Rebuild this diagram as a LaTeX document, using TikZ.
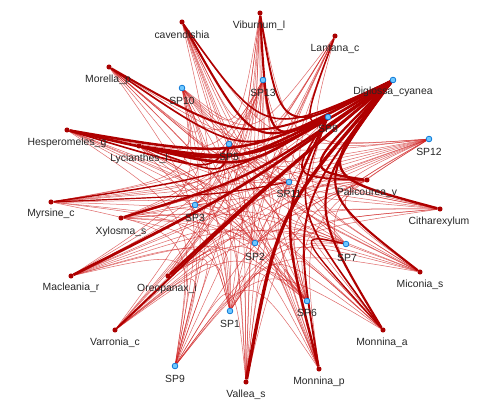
\documentclass[tikz,border=0pt]{standalone}
\usepackage{fontspec}
\setmainfont{Liberation Sans}
\usetikzlibrary{calc}
\pgfdeclarelayer{edges}
\pgfsetlayers{edges,main}
\definecolor{edgered}{RGB}{175,0,0}
\definecolor{thinred}{RGB}{205,25,25}
\definecolor{plantred}{RGB}{170,0,0}
\definecolor{pollfill}{RGB}{110,200,255}
\definecolor{pollline}{RGB}{0,110,210}
\newcommand{\mylink}[3][thinedge]{\draw[#1] (#2) .. controls ($(#2)!0.5!(#3)!0.6!(cen)$) .. (#3);}
\begin{document}
\begin{tikzpicture}[x=0.75pt,y=-0.75pt,
  plant/.style={circle,fill=plantred,draw=none,inner sep=0pt,minimum size=3.8pt},
  poll/.style={circle,fill=pollfill,draw=pollline,line width=0.5pt,inner sep=0pt,minimum size=4.3pt},
  lab/.style={font=\fontsize{7.8}{9}\selectfont,text=black!85,inner sep=0pt},
  thinedge/.style={draw=thinred,line width=0.38pt,opacity=0.65},
  thickedge/.style={draw=edgered,line width=#1},
  thickedge/.default=2pt]
\useasboundingbox (0,0) rectangle (492,418);
\coordinate (cen) at (250,197);
% plants
\node[plant] (cav) at (182,22) {};
\node[plant] (vib) at (260,13) {};
\node[plant] (lan) at (335,36) {};
\node[plant] (cit) at (440,209) {};
\node[plant] (mic) at (420,272) {};
\node[plant] (moa) at (383,330) {};
\node[plant] (mop) at (319,369) {};
\node[plant] (val) at (246,382) {};
\node[plant] (var) at (115,330) {};
\node[plant] (mac) at (71,276) {};
\node[plant] (myr) at (51,202) {};
\node[plant] (hes) at (67,130) {};
\node[plant] (mor) at (109,67) {};
\node[plant] (lyc) at (139,146) {};
\node[plant] (xyl) at (121,218) {};
\node[plant] (ore) at (168,276) {};
\node[plant] (pal) at (367,180) {};
% pollinators
\node[poll] (dig) at (393,80) {};
\node[poll] (sp12) at (429,139) {};
\node[poll] (sp9) at (175,366) {};
\node[poll] (sp10) at (182,88) {};
\node[poll] (sp13) at (263,80) {};
\node[poll] (sp8) at (328,117) {};
\node[poll] (sp5) at (229,144) {};
\node[poll] (sp3) at (195,205) {};
\node[poll] (sp11) at (289,182) {};
\node[poll] (sp2) at (255,243) {};
\node[poll] (sp7) at (346,244) {};
\node[poll] (sp1) at (230,311) {};
\node[poll] (sp6) at (307,301) {};
% labels
\node[lab] (tcav) at (182,35) {cavendishia};
\node[lab] (tvib) at (259,26) {Viburnum\_l};
\node[lab] (tlan) at (335,49) {Lantana\_c};
\node[lab] (tdig) at (393,92) {Diglossa\_cyanea};
\node[lab] (tsp12) at (429,152) {SP12};
\node[lab] (tcit) at (439,222) {Citharexylum};
\node[lab] (tmic) at (420,285) {Miconia\_s};
\node[lab] (tmoa) at (382,343) {Monnina\_a};
\node[lab] (tmop) at (319,382) {Monnina\_p};
\node[lab] (tval) at (246,395) {Vallea\_s};
\node[lab] (tsp9) at (175,379) {SP9};
\node[lab] (tvar) at (115,343) {Varronia\_c};
\node[lab] (tmac) at (71,288) {Macleania\_r};
\node[lab] (tmyr) at (51,214) {Myrsine\_c};
\node[lab] (thes) at (67,143) {Hesperomeles\_g};
\node[lab] (tmor) at (108,80) {Morella\_p};
\node[lab] (tsp10) at (182,101) {SP10};
\node[lab] (tsp13) at (263,93) {SP13};
\node[lab] (tsp8) at (328,129) {SP8};
\node[lab] (tlyc) at (139,159) {Lycianthes\_l};
\node[lab] (tsp5) at (229,157) {SP5};
\node[lab] (txyl) at (121,232) {Xylosma\_s};
\node[lab] (tsp3) at (195,218) {SP3};
\node[lab] (tsp11) at (289,194) {SP11};
\node[lab] (tpal) at (367,193) {Palicourea\_v};
\node[lab] (tsp2) at (255,257) {SP2};
\node[lab] (tsp7) at (347,258) {SP7};
\node[lab] (tore) at (167,289) {Oreopanax\_i};
\node[lab] (tsp1) at (230,324) {SP1};
\node[lab] (tsp6) at (307,313) {SP6};
\begin{pgfonlayer}{edges}
% thin links
\foreach \p [count=\i] in {sp1,sp2,sp3,sp5,sp6,sp7,sp9,sp10,sp11,sp12,sp13,sp8,dig} {
  \foreach \q [count=\j] in {cav,vib,lan,cit,mic,moa,mop,val,var,mac,myr,hes,mor,lyc,xyl,ore,pal} {
    \pgfmathtruncatemacro{\r}{mod(\i*5+\j*3,9)}
    \ifnum\r>0 \mylink{\p}{\q}\fi
  }
}
% thick links of Diglossa_cyanea
\mylink[thickedge=1.9pt]{dig}{hes}
\mylink[thickedge=1.9pt]{dig}{lyc}
\mylink[thickedge=1.5pt]{dig}{mor}
\mylink[thickedge=1.1pt]{dig}{myr}
\mylink[thickedge=1.8pt]{dig}{xyl}
\mylink[thickedge=2.1pt]{dig}{mac}
\mylink[thickedge=2.1pt]{dig}{ore}
\mylink[thickedge=1.4pt]{dig}{var}
\mylink[thickedge=2.5pt]{dig}{val}
\mylink[thickedge=1.4pt]{dig}{mop}
\mylink[thickedge=1.6pt]{dig}{moa}
\mylink[thickedge=1.6pt]{dig}{mic}
\mylink[thickedge=1.8pt]{dig}{cit}
\mylink[thickedge=1.7pt]{dig}{pal}
\mylink[thickedge=1.4pt]{dig}{vib}
\mylink[thickedge=1.1pt]{dig}{lan}
\mylink[thickedge=1.2pt]{dig}{cav}
% thick links of SP8
\mylink[thickedge=1.6pt]{sp8}{cav}
\mylink[thickedge=1.6pt]{sp8}{vib}
\mylink[thickedge=2.0pt]{sp8}{hes}
\mylink[thickedge=2.0pt]{sp8}{lyc}
\mylink[thickedge=1.2pt]{sp8}{mor}
\mylink[thickedge=1.8pt]{sp8}{mop}
\mylink[thickedge=1.2pt]{sp8}{moa}
\mylink[thickedge=1.2pt]{sp8}{pal}
% other heavier links
\mylink[thickedge=1.2pt]{sp5}{hes}
\mylink[thickedge=1.2pt]{sp5}{lyc}
\mylink[thickedge=1.0pt]{sp7}{moa}
\mylink[thickedge=0.9pt]{sp11}{myr}
\end{pgfonlayer}
\end{tikzpicture}
\end{document}
